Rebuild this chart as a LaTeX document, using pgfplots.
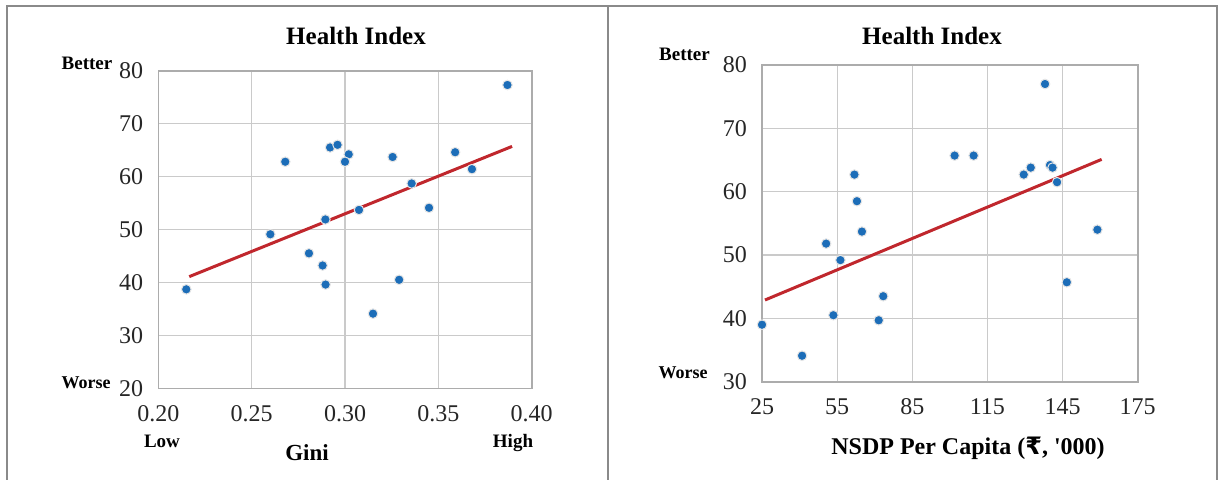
\documentclass[border=0pt]{standalone}
\usepackage{pgfplots}
\pgfplotsset{compat=1.18}
\usepackage{fontspec}
\setmainfont{Liberation Serif}
\newfontfamily\rupeefont{DejaVu Sans}

\definecolor{dotblue}{HTML}{1C6DB8}
\definecolor{trendred}{HTML}{C0272D}
\definecolor{gridgray}{HTML}{CACACA}
\definecolor{framegray}{HTML}{8A8A8A}

\pgfplotsset{
  panel/.style={
    scale only axis,
    anchor=north west,
    clip=false,
    grid=major,
    major grid style={gridgray, line width=0.6pt},
    axis line style={gridgray!85!black, line width=0.8pt},
    tick style={draw=none},
    ticklabel style={font=\fontsize{12}{13}\selectfont, text=black!85},
    yticklabel style={xshift=-4pt},
    xticklabel style={yshift=-5pt},
    /pgf/number format/assume math mode=true,
  },
  dots/.style={only marks, mark=*, mark size=2.4pt,
    mark options={fill=dotblue, draw=gray!20, line width=0.5pt}},
  trend/.style={no marks, trendred, line width=1.5pt},
}

\begin{document}
\begin{tikzpicture}
\useasboundingbox (0pt,0pt) rectangle (610.5pt,-239.5pt);

% left panel: Gini
\begin{axis}[panel,
  at={(79.15pt,-35.35pt)}, width=186.7pt, height=158.8pt,
  xmin=0.2, xmax=0.4, ymin=20, ymax=80,
  xtick={0.2,0.25,0.3,0.35,0.4}, ytick={20,30,40,50,60,70,80},
  xticklabel style={/pgf/number format/.cd, fixed, fixed zerofill, precision=2},
]
  \addplot[dots] coordinates {
    (0.387,77.3) (0.292,65.5) (0.296,66.0) (0.302,64.2) (0.300,62.8)
    (0.268,62.8) (0.3255,63.7) (0.359,64.6) (0.368,61.4) (0.3357,58.7)
    (0.345,54.1) (0.3075,53.7) (0.2895,51.9) (0.260,49.1) (0.2807,45.5)
    (0.288,43.2) (0.2896,39.6) (0.329,40.5) (0.215,38.7) (0.315,34.1)
  };
  \addplot[trend] coordinates {(0.2166,41.1) (0.3895,65.7)};
\end{axis}

% right panel: NSDP per capita
\begin{axis}[panel,
  at={(381pt,-32.5pt)}, width=187.85pt, height=158.35pt,
  xmin=25, xmax=175, ymin=30, ymax=80,
  xtick={25,55,85,115,145,175}, ytick={30,40,50,60,70,80},
]
  \addplot[dots] coordinates {
    (138.0,77.0) (101.9,65.7) (109.5,65.7) (129.5,62.7) (132.3,63.8)
    (140.0,64.2) (141.0,63.8) (142.8,61.5) (61.9,62.7) (62.9,58.5)
    (64.9,53.7) (50.6,51.8) (56.3,49.2) (158.9,54.0) (146.7,45.7)
    (73.4,43.5) (53.5,40.5) (71.6,39.7) (25.0,39.0) (41.0,34.1)
  };
  \addplot[trend] coordinates {(26.2,42.9) (160.6,65.1)};
\end{axis}

\begin{scope}[x=0.5pt, y=-0.5pt]
  \draw[framegray, line width=1pt] (7,480) -- (7,6) -- (1217,6) -- (1217,480);
  \draw[framegray, line width=1pt] (608,6) -- (608,480);

  \node[font=\fontsize{12.5}{14}\selectfont\bfseries] at (356,36) {Health Index};
  \node[font=\fontsize{9.5}{11}\selectfont\bfseries] at (87,63) {Better};
  \node[font=\fontsize{9}{11}\selectfont\bfseries] at (86,383) {Worse};
  \node[font=\fontsize{9.5}{11}\selectfont\bfseries] at (162,441) {Low};
  \node[font=\fontsize{9.5}{11}\selectfont\bfseries] at (513,443) {High};
  \node[font=\fontsize{11.5}{13}\selectfont\bfseries] at (307,453) {Gini};

  \node[font=\fontsize{12.5}{14}\selectfont\bfseries] at (932,36) {Health Index};
  \node[font=\fontsize{9.5}{11}\selectfont\bfseries] at (684.5,54) {Better};
  \node[font=\fontsize{9}{11}\selectfont\bfseries] at (683,373) {Worse};
  \node[font=\fontsize{12}{14}\selectfont\bfseries] at (968,448)
    {NSDP Per Capita ({\rupeefont ₹}, \textquotesingle 000)};
\end{scope}
\end{tikzpicture}
\end{document}
